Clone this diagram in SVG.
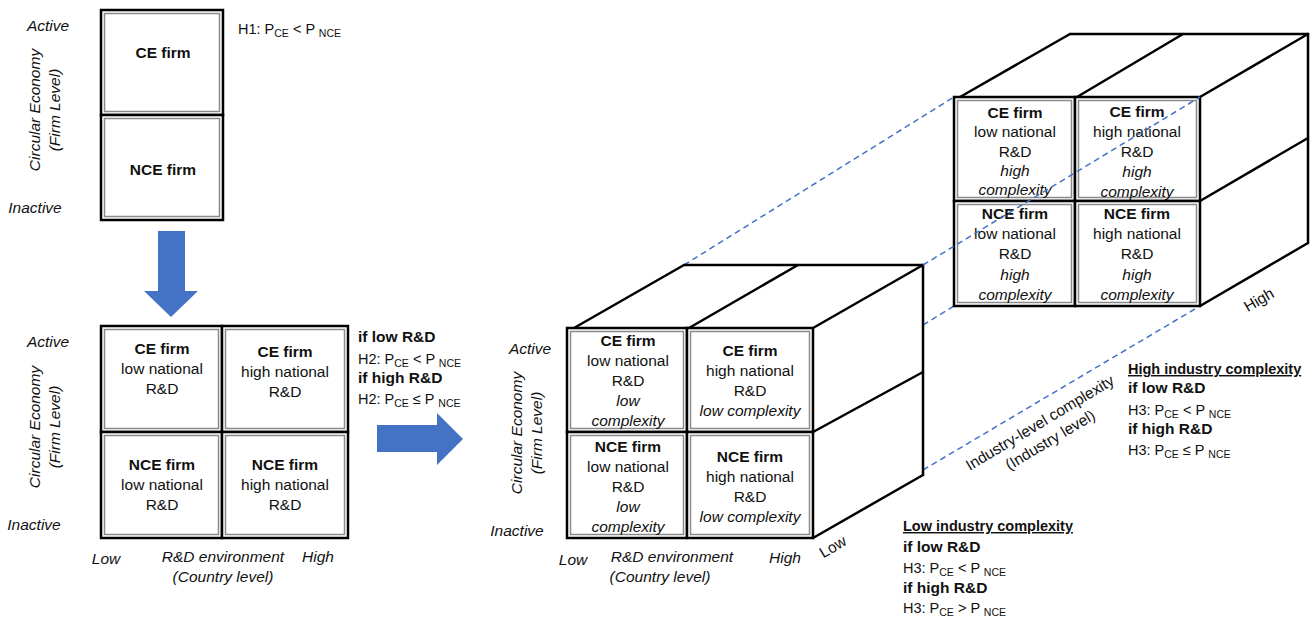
<svg xmlns="http://www.w3.org/2000/svg" width="1312" height="621" viewBox="0 0 1312 621">
<style>
text{font-family:"Liberation Sans",Arial,sans-serif;font-size:15.5px;fill:#111;}
.c{text-anchor:middle;}
.b{font-weight:bold;}
.i{font-style:italic;}
.s{font-size:14.5px;}
.sub{font-size:10.5px;}
.u{text-decoration:underline;}
.out{fill:#fff;stroke:#000;stroke-width:2.5;}
.in{fill:none;stroke:#8a8a8a;stroke-width:1.5;}
.edge{stroke:#000;stroke-width:2.5;fill:none;stroke-linecap:round;}
.dash{stroke:#4472C4;stroke-width:1.5;fill:none;stroke-dasharray:6 4;}
.arrow{fill:#4472C4;}
</style>

<!-- Panel 1 -->
<g id="p1-ce">
<rect class="out" x="101" y="10" width="122" height="105"/><rect class="in" x="104.5" y="13.5" width="115" height="98"/>
<text class="c b" x="163" y="58">CE firm</text>
</g>
<g id="p1-nce">
<rect class="out" x="101" y="115" width="122" height="105"/><rect class="in" x="104.5" y="118.5" width="115" height="98"/>
<text class="c b" x="163" y="175">NCE firm</text>
</g>
<g id="p1-labels">
<text class="c i" x="48" y="31">Active</text>
<text class="c i" x="35" y="213">Inactive</text>
<g transform="translate(40,110) rotate(-90)"><text class="c i" x="0" y="0">Circular Economy</text><text class="c i" x="0" y="20">(Firm Level)</text></g>
<text x="238" y="34" class="s">H1: P<tspan class="sub" dy="3">CE</tspan><tspan dy="-3"> &lt; P </tspan><tspan class="sub" dy="3">NCE</tspan></text>
</g>

<!-- Panel 2 -->
<g id="p2-tl">
<rect class="out" x="101" y="326" width="121" height="106"/><rect class="in" x="104.5" y="329.5" width="114" height="99"/>
<text class="c b" x="162" y="354">CE firm</text><text class="c" x="162" y="374">low national</text><text class="c" x="162" y="394">R&amp;D</text>
</g>
<g id="p2-tr">
<rect class="out" x="222" y="326" width="126" height="106"/><rect class="in" x="225.5" y="329.5" width="119" height="99"/>
<text class="c b" x="285" y="357">CE firm</text><text class="c" x="285" y="377">high national</text><text class="c" x="285" y="397">R&amp;D</text>
</g>
<g id="p2-bl">
<rect class="out" x="101" y="432" width="121" height="106"/><rect class="in" x="104.5" y="435.5" width="114" height="99"/>
<text class="c b" x="162" y="470">NCE firm</text><text class="c" x="162" y="490">low national</text><text class="c" x="162" y="510">R&amp;D</text>
</g>
<g id="p2-br">
<rect class="out" x="222" y="432" width="126" height="106"/><rect class="in" x="225.5" y="435.5" width="119" height="99"/>
<text class="c b" x="285" y="470">NCE firm</text><text class="c" x="285" y="490">high national</text><text class="c" x="285" y="510">R&amp;D</text>
</g>
<g id="p2-labels">
<text class="c i" x="48" y="347">Active</text>
<text class="c i" x="34" y="530">Inactive</text>
<g transform="translate(40,427) rotate(-90)"><text class="c i" x="0" y="0">Circular Economy</text><text class="c i" x="0" y="20">(Firm Level)</text></g>
<text class="c i" x="106" y="564">Low</text>
<text class="c i" x="223" y="562">R&amp;D environment</text>
<text class="c i" x="223" y="582">(Country level)</text>
<text class="c i" x="318" y="562">High</text>
<text class="b" x="358" y="342">if low R&amp;D</text>
<text x="358" y="364" class="s">H2: P<tspan class="sub" dy="3">CE</tspan><tspan dy="-3"> &lt; P </tspan><tspan class="sub" dy="3">NCE</tspan></text>
<text class="b" x="358" y="383">if high R&amp;D</text>
<text x="358" y="404" class="s">H2: P<tspan class="sub" dy="3">CE</tspan><tspan dy="-3"> ≤ P </tspan><tspan class="sub" dy="3">NCE</tspan></text>
</g>

<!-- Connectors -->
<g id="connectors">
<polygon class="arrow" points="158,231 185,231 185,291 198,291 171,317 144,291 158,291"/>
<polygon class="arrow" points="377,425 437,425 437,413 463,439 437,465 437,452 377,452"/>
<line class="dash" x1="684" y1="265" x2="954" y2="97"/>
<line class="dash" x1="923" y1="325" x2="954" y2="306"/>
<line class="dash" x1="923" y1="470" x2="1200" y2="306"/>
</g>

<!-- Middle cube (low complexity) -->
<g id="cube-low-edges">
<line class="edge" x1="574" y1="328" x2="684" y2="265"/>
<line class="edge" x1="689" y1="328" x2="798" y2="265"/>
<line class="edge" x1="684" y1="265" x2="923" y2="265"/>
<line class="edge" x1="813" y1="328" x2="923" y2="265"/>
<line class="edge" x1="923" y1="265" x2="923" y2="475"/>
<line class="edge" x1="813" y1="432" x2="923" y2="372"/>
<line class="edge" x1="813" y1="538" x2="923" y2="475"/>
</g>
<g id="m-tl">
<rect class="out" x="567" y="328" width="120" height="104"/><rect class="in" x="570.5" y="331.5" width="113" height="97"/>
<text class="c b" x="628" y="346">CE firm</text><text class="c" x="628" y="366">low national</text><text class="c" x="628" y="386">R&amp;D</text><text class="c i" x="628" y="406">low</text><text class="c i" x="628" y="426">complexity</text>
</g>
<g id="m-tr">
<rect class="out" x="687" y="328" width="126" height="104"/><rect class="in" x="690.5" y="331.5" width="119" height="97"/>
<text class="c b" x="750" y="356">CE firm</text><text class="c" x="750" y="376">high national</text><text class="c" x="750" y="396">R&amp;D</text><text class="c i" x="750" y="416">low complexity</text>
</g>
<g id="m-bl">
<rect class="out" x="567" y="432" width="120" height="106"/><rect class="in" x="570.5" y="435.5" width="113" height="99"/>
<text class="c b" x="628" y="452">NCE firm</text><text class="c" x="628" y="472">low national</text><text class="c" x="628" y="492">R&amp;D</text><text class="c i" x="628" y="512">low</text><text class="c i" x="628" y="532">complexity</text>
</g>
<g id="m-br">
<rect class="out" x="687" y="432" width="126" height="106"/><rect class="in" x="690.5" y="435.5" width="119" height="99"/>
<text class="c b" x="750" y="462">NCE firm</text><text class="c" x="750" y="482">high national</text><text class="c" x="750" y="502">R&amp;D</text><text class="c i" x="750" y="522">low complexity</text>
</g>
<g id="m-labels">
<text class="c i" x="530" y="354">Active</text>
<text class="c i" x="517" y="536">Inactive</text>
<g transform="translate(522,433) rotate(-90)"><text class="c i" x="0" y="0">Circular Economy</text><text class="c i" x="0" y="20">(Firm Level)</text></g>
<text class="c i" x="573" y="565">Low</text>
<text class="c i" x="672" y="562">R&amp;D environment</text>
<text class="c i" x="660" y="582">(Country level)</text>
<text class="c i" x="785" y="563">High</text>
<text class="c" transform="translate(833,547) rotate(-30)" x="0" y="5">Low</text>
</g>

<!-- Back cube (high complexity) -->
<g id="cube-high-edges">
<line class="edge" x1="960" y1="97" x2="1070" y2="34"/>
<line class="edge" x1="1077" y1="97" x2="1183" y2="34"/>
<line class="edge" x1="1070" y1="34" x2="1308" y2="34"/>
<line class="edge" x1="1200" y1="97" x2="1308" y2="34"/>
<line class="edge" x1="1308" y1="34" x2="1308" y2="243"/>
<line class="edge" x1="1200" y1="201" x2="1308" y2="138"/>
<line class="edge" x1="1200" y1="306" x2="1308" y2="243"/>
</g>
<g id="h-tl">
<rect class="out" x="954" y="97" width="121" height="104"/><rect class="in" x="957.5" y="100.5" width="114" height="97"/>
<text class="c b" x="1015" y="118">CE firm</text><text class="c" x="1015" y="137">low national</text><text class="c" x="1015" y="157">R&amp;D</text><text class="c i" x="1015" y="176">high</text><text class="c i" x="1015" y="195">complexity</text>
</g>
<g id="h-tr">
<rect class="out" x="1075" y="97" width="125" height="104"/><rect class="in" x="1078.5" y="100.5" width="118" height="97"/>
<text class="c b" x="1137" y="117">CE firm</text><text class="c" x="1137" y="137">high national</text><text class="c" x="1137" y="157">R&amp;D</text><text class="c i" x="1137" y="177">high</text><text class="c i" x="1137" y="197">complexity</text>
</g>
<g id="h-bl">
<rect class="out" x="954" y="201" width="121" height="105"/><rect class="in" x="957.5" y="204.5" width="114" height="98"/>
<text class="c b" x="1015" y="219">NCE firm</text><text class="c" x="1015" y="239">low national</text><text class="c" x="1015" y="259">R&amp;D</text><text class="c i" x="1015" y="280">high</text><text class="c i" x="1015" y="300">complexity</text>
</g>
<g id="h-br">
<rect class="out" x="1075" y="201" width="125" height="105"/><rect class="in" x="1078.5" y="204.5" width="118" height="98"/>
<text class="c b" x="1137" y="219">NCE firm</text><text class="c" x="1137" y="239">high national</text><text class="c" x="1137" y="259">R&amp;D</text><text class="c i" x="1137" y="280">high</text><text class="c i" x="1137" y="300">complexity</text>
</g>
<g id="connectors-top">
<line class="dash" x1="923" y1="265" x2="1200" y2="97"/>
</g>
<g id="h-labels">
<text class="c" transform="translate(1259,300) rotate(-30)" x="0" y="5">High</text>
<g transform="translate(1040,423) rotate(-31)"><text class="c" x="0" y="5">Industry-level complexity</text><text class="c" x="0" y="25">(Industry level)</text></g>
<text class="b u s" x="1128" y="374">High industry complexity</text>
<text class="b" x="1128" y="393">if low R&amp;D</text>
<text x="1128" y="415" class="s">H3: P<tspan class="sub" dy="3">CE</tspan><tspan dy="-3"> &lt; P </tspan><tspan class="sub" dy="3">NCE</tspan></text>
<text class="b" x="1128" y="434">if high R&amp;D</text>
<text x="1128" y="455" class="s">H3: P<tspan class="sub" dy="3">CE</tspan><tspan dy="-3"> ≤ P </tspan><tspan class="sub" dy="3">NCE</tspan></text>
<text class="b u s" x="903" y="531">Low industry complexity</text>
<text class="b" x="903" y="552">if low R&amp;D</text>
<text x="903" y="573" class="s">H3: P<tspan class="sub" dy="3">CE</tspan><tspan dy="-3"> &lt; P </tspan><tspan class="sub" dy="3">NCE</tspan></text>
<text class="b" x="903" y="593">if high R&amp;D</text>
<text x="903" y="613" class="s">H3: P<tspan class="sub" dy="3">CE</tspan><tspan dy="-3"> &gt; P </tspan><tspan class="sub" dy="3">NCE</tspan></text>
</g>
</svg>
